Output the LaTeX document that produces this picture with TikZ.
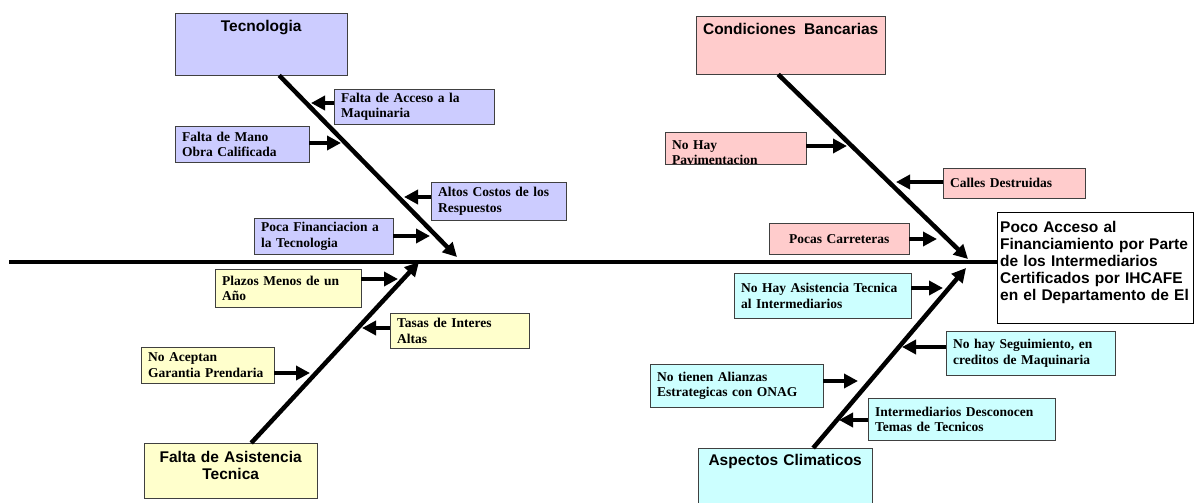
\documentclass[tikz,border=0pt]{standalone}
\usepackage{fontspec}
\setmainfont{Liberation Serif}
\newfontfamily\arialfont{Liberation Sans}
\usetikzlibrary{arrows.meta}
\definecolor{lila}{HTML}{CCCCFF}
\definecolor{rosa}{HTML}{FFCCCC}
\definecolor{crema}{HTML}{FFFFCC}
\definecolor{celeste}{HTML}{CCFFFF}
\newcommand{\causefont}{\fontsize{13.5}{15.5}\selectfont\bfseries}
\newcommand{\headfont}{\fontsize{15.5}{17}\selectfont\arialfont\bfseries}
\tikzstyle{every node}=[font=\causefont]
\tikzstyle{head} = [rectangle, draw=black!75, anchor=north west, inner sep=0pt, align=center, font=\headfont]
\tikzstyle{cause} = [rectangle, draw=black!75, anchor=north west, align=left, inner xsep=7pt, inner ysep=0pt]
\tikzstyle{bone} = [draw, line width=4.5pt]
\tikzstyle{line} = [draw, line width=4.5pt, -{Triangle[length=14pt,width=14pt]}]

\begin{document}
\begin{tikzpicture}[x=1pt, y=-1pt]
    \useasboundingbox (0,0) rectangle (1195,503);
    % Place nodes
    \node [head, fill=lila, text width=172pt, text height=18pt, text depth=44pt] (tec) at (175,13) {Tecnologia};
    \node [head, fill=rosa, text width=189pt, text height=18pt, text depth=40pt] (cond) at (696,16) {Condiciones\hspace{3pt} Bancarias};
    \node [head, fill=crema, text width=173pt, text height=19pt, text depth=36pt] (fda) at (144,443) {Falta de Asistencia\\Tecnica};
    \node [head, fill=celeste, text width=174pt, text height=17pt, text depth=41pt] (asp) at (698,448) {Aspectos Climaticos};
    \node [head, fill=white, draw=black, align=left, inner xsep=3pt, text width=190pt, text height=20pt, text depth=91pt] (efecto) at (997,212)
        {Poco Acceso al\\Financiamiento por Parte\\de los Intermediarios\\Certificados por IHCAFE\\en el Departamento de El};

    \node [cause, fill=lila, text width=146pt, minimum height=35pt] (acceso) at (334,89) {Falta de Acceso a la\\Maquinaria};
    \node [cause, fill=lila, text width=120pt, minimum height=36pt] (mano) at (175,126) {Falta de Mano\\Obra Calificada};
    \node [cause, fill=lila, text width=121pt, minimum height=38pt] (costos) at (431,182) {Altos Costos de los\\Respuestos};
    \node [cause, fill=lila, text width=125pt, minimum height=36pt] (financ) at (254,218) {Poca Financiacion a\\la Tecnologia};

    \node [cause, fill=rosa, text width=127pt, text height=17pt, text depth=15pt] (pavim) at (665,132) {No Hay\\Pavimentacion};
    \node [cause, fill=rosa, text width=128pt, minimum height=30pt] (calles) at (943,168) {Calles Destruidas};
    \node [cause, fill=rosa, text width=126pt, minimum height=31pt, align=center] (carreteras) at (769,223) {Pocas Carreteras};

    \node [cause, fill=crema, text width=132pt, minimum height=38pt] (plazos) at (215,269) {Plazos Menos de un\\Año};
    \node [cause, fill=crema, text width=125pt, minimum height=35pt] (tasas) at (390,313) {Tasas de Interes\\Altas};
    \node [cause, fill=crema, text width=119pt, minimum height=36pt] (aceptan) at (141,347) {No Aceptan\\Garantia Prendaria};

    \node [cause, fill=celeste, text width=163pt, minimum height=45pt] (asist) at (734,273) {No Hay Asistencia Tecnica\\al Intermediarios};
    \node [cause, fill=celeste, text width=155pt, minimum height=44pt] (seguim) at (946,331) {No hay Seguimiento, en\\creditos de Maquinaria};
    \node [cause, fill=celeste, text width=159pt, minimum height=43pt] (alianzas) at (650,364) {No tienen Alianzas\\Estrategicas con ONAG};
    \node [cause, fill=celeste, text width=173pt, minimum height=42pt] (desconocen) at (868,398) {Intermediarios Desconocen\\Temas de Tecnicos};

    % Ends of the arrows
    \coordinate (espina) at (9,262);
    \coordinate (tecfin) at (457,257);
    \coordinate (condfin) at (968,259);
    \coordinate (fdafin) at (419,262);
    \coordinate (aspfin) at (966,268);
    \coordinate (p1) at (311,103);
    \coordinate (p2) at (341,143);
    \coordinate (p3) at (404,197);
    \coordinate (p4) at (430,236);
    \coordinate (p5) at (847,146);
    \coordinate (p6) at (896,182);
    \coordinate (p7) at (937,239);
    \coordinate (p8) at (398,279);
    \coordinate (p9) at (362,328);
    \coordinate (p10) at (310,373);
    \coordinate (p11) at (943,288);
    \coordinate (p12) at (902,347);
    \coordinate (p13) at (858,381);
    \coordinate (p14) at (839,420);

    % Draw edges
    \path [bone] (espina) -- (espina -| efecto.west);
    \path [line] ([xshift=18pt]tec.south) -- (tecfin);
    \path [line] ([xshift=-12.5pt]cond.south) -- (condfin);
    \path [line] ([xshift=20.5pt]fda.north) -- (fdafin);
    \path [line] ([xshift=28pt]asp.north) -- (aspfin);

    \path [line] (acceso.west |- p1) -- (p1);
    \path [line] (mano.east |- p2) -- (p2);
    \path [line] (costos.west |- p3) -- (p3);
    \path [line] (financ.east |- p4) -- (p4);
    \path [line] (pavim.east |- p5) -- (p5);
    \path [line] (calles.west |- p6) -- (p6);
    \path [line] (carreteras.east |- p7) -- (p7);
    \path [line] (plazos.east |- p8) -- (p8);
    \path [line] (tasas.west |- p9) -- (p9);
    \path [line] (aceptan.east |- p10) -- (p10);
    \path [line] (asist.east |- p11) -- (p11);
    \path [line] (seguim.west |- p12) -- (p12);
    \path [line] (alianzas.east |- p13) -- (p13);
    \path [line] (desconocen.west |- p14) -- (p14);
\end{tikzpicture}
\end{document}
